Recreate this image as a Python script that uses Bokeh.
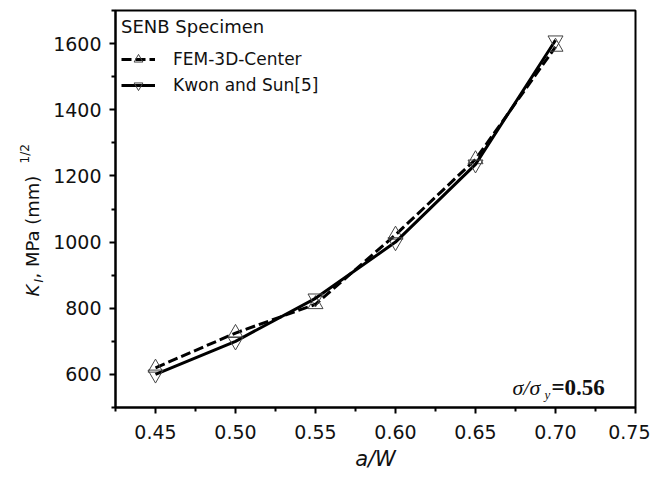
from bokeh.plotting import figure
from bokeh.layouts import row
from bokeh.models import Range1d, FixedTicker, PrintfTickFormatter, Label, Legend, LegendItem
from bokeh.embed import file_html
from bokeh.resources import INLINE
import math

# ---- data ----
a_w = [0.45, 0.50, 0.55, 0.60, 0.65, 0.70]
fem_3d_center = [620, 725, 812, 1022, 1250, 1590]
kwon_and_sun = [600, 700, 830, 1000, 1235, 1610]
x_ticks = [0.45, 0.50, 0.55, 0.60, 0.65, 0.70, 0.75]
x_minor = [0.425, 0.475, 0.525, 0.575, 0.625, 0.675, 0.725]
y_ticks = [600, 800, 1000, 1200, 1400, 1600]
y_minor = [500, 700, 900, 1100, 1300, 1500, 1700]

X0, X1 = 0.425, 0.75
Y0, Y1 = 500, 1700
FONT = "DejaVu Sans"
H = 473
LABEL_W = 50
FRAME_BOTTOM = 410   # page pixel row of the plot frame's bottom edge

p = figure(width=600, height=H, output_backend="svg", toolbar_location=None,
           x_range=Range1d(X0, X1), y_range=Range1d(Y0, Y1),
           min_border_left=115 - LABEL_W, min_border_right=15, min_border_top=10,
           min_border_bottom=63)
p.xgrid.visible = False
p.ygrid.visible = False
p.outline_line_color = "black"
p.outline_line_width = 2
p.background_fill_color = "white"
p.border_fill_color = "white"

for ax in (p.xaxis[0], p.yaxis[0]):
    ax.axis_line_width = 2
    ax.major_tick_line_width = 2
    ax.minor_tick_line_width = 2
    ax.major_tick_in = 0
    ax.major_tick_out = 6
    ax.minor_tick_in = 0
    ax.minor_tick_out = 4
    ax.major_label_text_font = FONT
    ax.major_label_text_font_size = "19px"
    ax.major_label_text_color = "#111111"

p.xaxis.ticker = FixedTicker(ticks=x_ticks, minor_ticks=x_minor)
p.yaxis.ticker = FixedTicker(ticks=y_ticks, minor_ticks=y_minor)
p.xaxis.formatter = PrintfTickFormatter(format="%.2f")
p.xaxis.major_label_standoff = 11
p.yaxis.major_label_standoff = 8
p.xaxis.axis_label = "a/W"
p.xaxis.axis_label_text_font = FONT
p.xaxis.axis_label_text_font_size = "21px"
p.xaxis.axis_label_text_font_style = "italic"
p.xaxis.axis_label_text_color = "#111111"
p.xaxis.axis_label_standoff = 5

# ---- series ----
l1 = p.line(a_w, fem_3d_center, line_width=3, line_dash="10 4", color="black")
s1 = p.scatter(a_w, fem_3d_center, marker="triangle", size=15, fill_color=None,
               line_color="#444444", line_width=1)
l2 = p.line(a_w, kwon_and_sun, line_width=3, color="black")
s2 = p.scatter(a_w, kwon_and_sun, marker="inverted_triangle", size=15, fill_color=None,
               line_color="#444444", line_width=1)

legend = Legend(items=[LegendItem(label="FEM-3D-Center", renderers=[l1, s1]),
                       LegendItem(label="Kwon and Sun[5]", renderers=[l2, s2])],
                title="SENB Specimen", location="top_left")
legend.title_text_font = FONT
legend.title_text_font_size = "18px"
legend.title_text_font_style = "normal"
legend.title_text_color = "#111111"
legend.label_text_font = FONT
legend.label_text_font_size = "17px"
legend.label_text_color = "#111111"
legend.background_fill_alpha = 0
legend.border_line_alpha = 0
legend.margin = 2
legend.padding = 4
legend.spacing = 4
legend.glyph_width = 34
legend.glyph_height = 22
legend.label_height = 22
legend.label_standoff = 18
legend.title_standoff = 11
p.add_layout(legend)

# pixel (in reference image) -> data helpers for annotation placement
def px2x(px):
    return X0 + (px - 115) * (X1 - X0) / 520.0

def px2y(py):
    return Y0 + (410 - py) * (Y1 - Y0) / 400.0

# ---- sigma annotation ----
p.add_layout(Label(x=px2x(512), y=px2y(390), text="σ/σ", text_font="Liberation Serif",
                   text_font_size="22px", text_font_style="italic", text_color="#111111",
                   text_align="left", text_baseline="alphabetic"))
p.add_layout(Label(x=px2x(544), y=px2y(397), text="y", text_font="Liberation Serif",
                   text_font_size="13px", text_font_style="italic", text_color="#111111",
                   text_align="left", text_baseline="alphabetic"))
p.add_layout(Label(x=px2x(551), y=px2y(390), text="=0.56", text_font="Liberation Serif",
                   text_font_size="23px", text_font_style="bold", text_color="#111111",
                   text_align="left", text_baseline="alphabetic"))

# ---- y axis label in a narrow side panel (rotated, with sub/superscript) ----
lab = figure(width=LABEL_W, height=H, output_backend="svg", toolbar_location=None,
             x_axis_location=None, y_axis_location=None,
             x_range=Range1d(0, 1), y_range=Range1d(0, 1),
             min_border=0, min_border_left=0, min_border_right=0,
             min_border_top=0, min_border_bottom=0)
lab.xgrid.visible = False
lab.ygrid.visible = False
lab.outline_line_color = None

rot = math.pi / 2

def ylab(text, px, py, size, style="normal"):
    lab.add_layout(Label(x=px, y=FRAME_BOTTOM - py, x_units="screen", y_units="screen",
                         text=text, angle=rot, text_font=FONT, text_font_size=size,
                         text_font_style=style, text_color="#111111",
                         text_align="left", text_baseline="middle"))

ylab("K", 32, 299, "18px", "italic")
ylab("I", 38, 285, "12px", "italic")
ylab(", MPa (mm)", 32, 281, "18px")
ylab("1/2", 24, 166, "12px")

layout = row(lab, p, spacing=0)
open("out.html", "w").write(file_html(layout, INLINE))
